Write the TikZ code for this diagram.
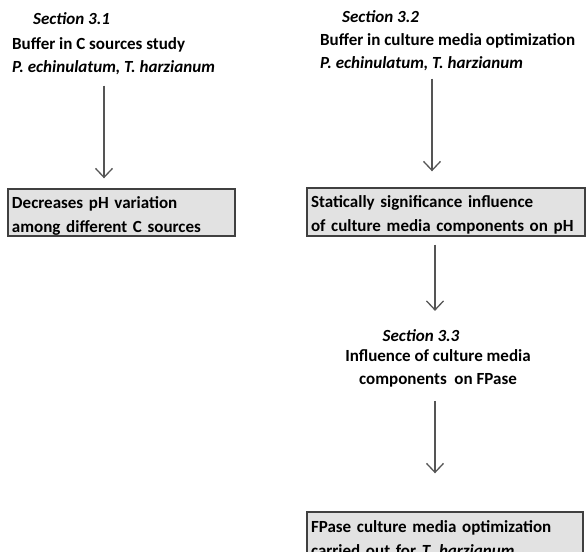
\documentclass[tikz,border=0pt]{standalone}
\usepackage{fontspec}
\setmainfont{Carlito}
\usepackage{xcolor}
\usepackage{tikz}
\usetikzlibrary{arrows.meta,positioning}

\definecolor{boxfill}{HTML}{E2E2E2}
\definecolor{boxline}{HTML}{404040}
\definecolor{arrowgray}{HTML}{555555}

\begin{document}
\begin{tikzpicture}[
    x=1pt, y=-1pt,
    every node/.style={font=\fontsize{17}{23}\selectfont\bfseries, inner sep=0pt},
    section/.style={anchor=base west, font=\fontsize{17}{23}\selectfont\bfseries\itshape},
    title/.style={anchor=base west, align=left},
    result/.style={rectangle, draw=boxline, line width=1.4pt, fill=boxfill, align=left, inner xsep=4pt,
        font=\fontsize{17}{24}\selectfont\bfseries},
    flow/.style={-{Straight Barb[length=9pt,width=17pt]}, draw=arrowgray, line width=1.3pt}
]
    \useasboundingbox (0,0) rectangle (587,552);

    % Section 3.1
    \node[section] (sec1) at (33,24) {Section 3.1};
    \node[title] (buffer1) at (12,72) {Buffer in C sources study\\
        \textit{P. echinulatum, T. harzianum}};
    \node[result, minimum width=227pt, minimum height=47pt, text width=219pt] (res1) at (121.5,212.5) {
        \rule{0pt}{18pt}Decreases pH variation\\
        among different C sources
    };

    % Section 3.2
    \node[section] (sec2) at (342,22) {Section 3.2};
    \node[title] (buffer2) at (320,68) {Buffer in culture media optimization\\
        \textit{P. echinulatum, T. harzianum}};
    \node[result, minimum width=278pt, minimum height=48pt, text width=270pt] (res2) at (446,212) {
        \rule{0pt}{18pt}Statically significance influence\\
        of culture media components on pH
    };

    % Section 3.3
    \node[section, anchor=base] (sec3) at (421,341) {Section 3.3};
    \node[anchor=base, align=center] (infl) at (438,384) {Influence of culture media\\
        components\ \ on FPase};
    \node[result, minimum width=276pt, minimum height=48pt, text width=268pt] (res3) at (445,536) {
        \rule{0pt}{18pt}FPase culture media optimization\\
        carried out for \textit{T. harzianum}
    };

    % Arrow columns
    \coordinate (col1) at (104,0);
    \coordinate (col2) at (432,0);
    \coordinate (col3) at (435,0);

    % Arrows
    \draw[flow, shorten <=11pt, shorten >=10pt] (col1 |- buffer1.south) -- (col1 |- res1.north);
    \draw[flow, shorten <=8pt, shorten >=16pt] (col2 |- buffer2.south) -- (col2 |- res2.north);
    \draw[flow, shorten <=8pt, shorten >=18pt] (col3 |- res2.south) -- (col3 |- sec3.north);
    \draw[flow, shorten <=14pt, shorten >=38pt] (col3 |- infl.south) -- (col3 |- res3.north);
\end{tikzpicture}
\end{document}
